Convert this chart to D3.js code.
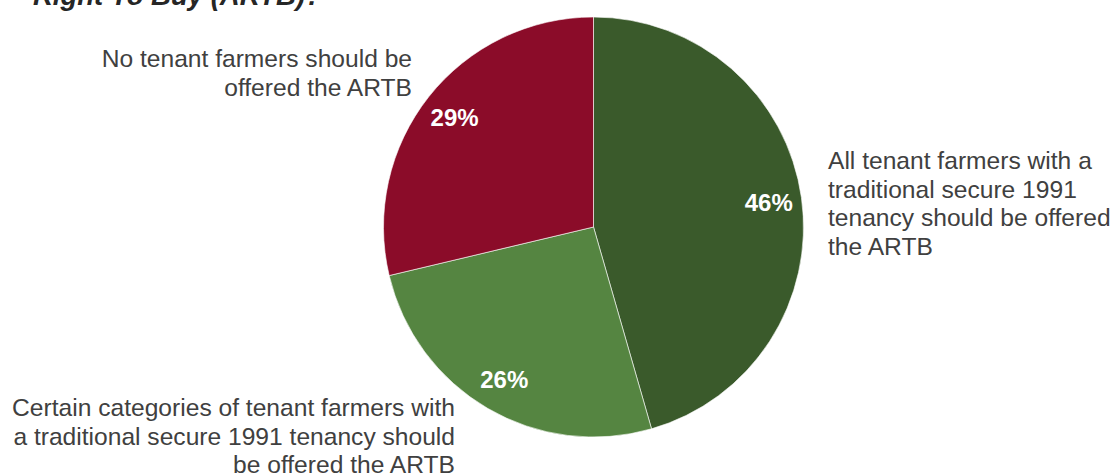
<!DOCTYPE html>
<html>
<head>
<meta charset="utf-8">
<script src="https://cdn.jsdelivr.net/npm/d3@7"></script>
<style>
  html, body { margin: 0; padding: 0; background: #ffffff; }
  svg { display: block; }
</style>
</head>
<body>
<svg id="chart" width="1113" height="473"></svg>
<script>
// Survey responses on the Absolute Right To Buy (ARTB)
const categories = [
  "All tenant farmers with a traditional secure 1991 tenancy should be offered the ARTB",
  "Certain categories of tenant farmers with a traditional secure 1991 tenancy should be offered the ARTB",
  "No tenant farmers should be offered the ARTB"
];
const values = [46, 26, 29];
const colors = ["#3a5a2b", "#558541", "#8b0c29"];

// Category labels broken into lines as they are set beside the pie
const labelLines = [
  ["All tenant farmers with a", "traditional secure 1991", "tenancy should be offered", "the ARTB"],
  ["Certain categories of tenant farmers with", "a traditional secure 1991 tenancy should", "be offered the ARTB"],
  ["No tenant farmers should be", "offered the ARTB"]
];
const titleText = "Right To Buy (ARTB)?";

const svg = d3.select("#chart");
const cx = 593.5, cy = 227, radius = 210;
const font = "Liberation Sans, Arial, sans-serif";

// Title (continues from a line above the visible area)
svg.append("text")
  .attr("x", 33)
  .attr("y", 5)
  .attr("font-family", font)
  .attr("font-size", 27.5)
  .attr("font-weight", "bold")
  .attr("font-style", "italic")
  .attr("fill", "#262626")
  .text(titleText);

const data = categories.map((c, i) => ({ category: c, value: values[i], color: colors[i], lines: labelLines[i] }));

const pie = d3.pie().sort(null).value(d => d.value);
const arcs = pie(data);
const arc = d3.arc().innerRadius(0).outerRadius(radius);
const labelArc = d3.arc().innerRadius(177).outerRadius(177);

const g = svg.append("g").attr("transform", `translate(${cx},${cy})`);

g.selectAll("path")
  .data(arcs)
  .join("path")
  .attr("d", arc)
  .attr("fill", d => d.data.color)
  .attr("stroke", "#ffffff")
  .attr("stroke-width", 0.6);

g.selectAll("text.pct")
  .data(arcs)
  .join("text")
  .attr("class", "pct")
  .attr("transform", d => `translate(${labelArc.centroid(d)})`)
  .attr("text-anchor", "middle")
  .attr("dy", "0.36em")
  .attr("font-family", font)
  .attr("font-size", 24)
  .attr("font-weight", "bold")
  .attr("fill", "#ffffff")
  .text(d => d.data.value + "%");

// Category label placement: anchor x, first baseline, alignment
const labelPos = [
  { x: 828, y: 169, anchor: "start" },
  { x: 455, y: 416, anchor: "end" },
  { x: 412, y: 67, anchor: "end" }
];
const lineHeight = 28.7;

data.forEach((d, i) => {
  const p = labelPos[i];
  const t = svg.append("text")
    .attr("font-family", font)
    .attr("font-size", 24.6)
    .attr("fill", "#404040")
    .attr("text-anchor", p.anchor);
  d.lines.forEach((line, j) => {
    t.append("tspan")
      .attr("x", p.x)
      .attr("y", p.y + j * lineHeight)
      .text(line);
  });
});
</script>
</body>
</html>
